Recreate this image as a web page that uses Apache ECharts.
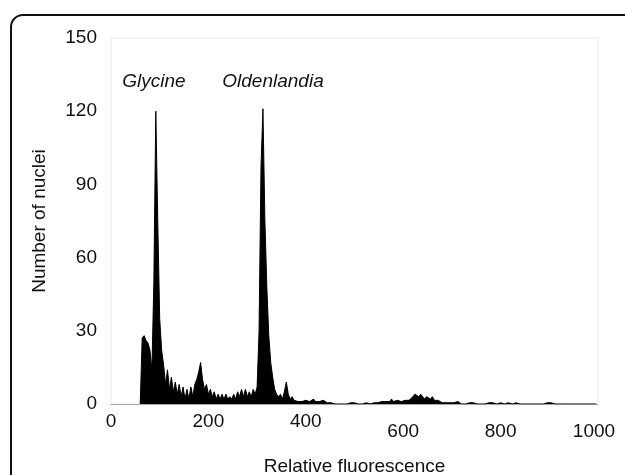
<!DOCTYPE html>
<html>
<head>
<meta charset="utf-8">
<script src="https://cdn.jsdelivr.net/npm/echarts@6/dist/echarts.min.js"></script>
<style>
html,body{margin:0;padding:0;background:#fff;}
#chart{width:625px;height:475px;}
</style>
</head>
<body>
<div id="chart"></div>
<script>
// Histogram bins: first channel and bin width
const binStart = 60;
const binWidth = 4;
// Number of nuclei per bin (channels 60, 64, 68, ... )
const counts = [
  0, 27, 28, 26, 25, 22, 14, 50, 120, 75,
  35, 22, 16, 8, 14, 6, 11, 5, 9, 4,
  8, 3, 7, 2, 6, 2, 7, 3, 8, 10,
  13, 17, 10, 6, 8, 4, 6, 3, 5, 2,
  4, 2, 4, 2, 4, 2, 3, 2, 4, 2,
  5, 3, 6, 3, 6, 3, 5, 3, 6, 4,
  7, 30, 97, 121, 75, 48, 28, 17, 11, 6,
  4, 3, 4, 2, 5, 9, 4, 2, 3, 1.5,
  2, 1, 1.5, 1, 1, 1.5, 1, 1, 1.5, 2,
  1, 1.5, 1, 1, 1.5, 1, 0.5, 1, 0.5, 1,
  0, 0.5, 0, 0.5, 0, 0.5, 0, 0, 0.5, 0,
  0.5, 0, 0, 0.5, 0, 0, 0.5, 0, 0, 0.5,
  0.5, 1, 0.5, 0.5, 1, 0.5, 1, 1, 1, 2,
  1, 1, 1.5, 1, 1, 1, 1.5, 1, 1.5, 2,
  3, 4, 3.5, 3, 4, 3, 2, 3, 2.5, 2,
  3, 1.5, 1, 1.5, 1, 0.5, 1, 0.5, 1, 0.5,
  1, 0.5, 0, 1, 0.5, 0, 0.5, 0, 0, 0.5,
  0, 0.5, 0, 0, 0.5, 0, 0.5, 0, 0, 0.5,
  0, 0.5, 0, 0, 0, 0.5, 0, 0, 0, 0.5,
  0, 0, 0, 0.5, 0, 0, 0, 0, 0, 0,
  0, 0, 0, 0, 0, 0, 0, 0, 0, 0.5,
  0, 0.5, 0, 0, 0, 0, 0, 0, 0, 0,
  0, 0, 0, 0, 0.5, 0, 0, 0, 0, 0,
  0, 0, 0, 0, 0
];
const xTicks = [0, 200, 400, 600, 800, 1000];
const yTicks = [0, 30, 60, 90, 120, 150];
const peakLabels = ['Glycine', 'Oldenlandia'];

const seriesData = counts.map((c, i) => [binStart + i * binWidth, c]);

const chart = echarts.init(document.getElementById('chart'), null, {renderer: 'canvas'});
const font = '"Liberation Sans", Arial, sans-serif';
const fs = 19;
chart.setOption({
  animation: false,
  backgroundColor: '#fff',
  grid: {left: 111, right: 27, top: 38, bottom: 71, show: true, borderColor: '#e8e8e8', borderWidth: 1,
         containLabel: false, outerBoundsMode: 'none'},
  xAxis: {
    type: 'value', min: 0, max: 1000, interval: 200,
    name: 'Relative fluorescence', nameLocation: 'middle', nameGap: 53,
    nameTextStyle: {fontFamily: font, fontSize: fs, color: '#111'},
    axisLine: {show: true, lineStyle: {color: '#aaa', width: 1}},
    axisTick: {show: false},
    splitLine: {show: false},
    axisLabel: {
      margin: 8,
      fontFamily: font, fontSize: fs, color: '#111',
      formatter: v => (v === 1000 ? '{c|' + v + '}' : xTicks.indexOf(v) >= 3 ? '{b|' + v + '}' : '{a|' + v + '}'),
      rich: {
        a: {fontFamily: font, fontSize: fs, color: '#111'},
        b: {fontFamily: font, fontSize: fs, color: '#111', padding: [10, 0, 0, 0]},
        c: {fontFamily: font, fontSize: fs, color: '#111', padding: [10, 8, 0, 0]}
      }
    }
  },
  yAxis: {
    type: 'value', min: 0, max: 150, interval: 30,
    name: 'Number of nuclei', nameLocation: 'middle', nameGap: 62, nameRotate: 90,
    nameTextStyle: {fontFamily: font, fontSize: fs, color: '#111'},
    axisLine: {show: false},
    axisTick: {show: false},
    splitLine: {show: false},
    axisLabel: {margin: 14, fontFamily: font, fontSize: fs, color: '#111'}
  },
  series: [{
    type: 'line',
    data: seriesData,
    showSymbol: false,
    symbol: 'none',
    lineStyle: {color: '#000', width: 1},
    areaStyle: {color: '#000', opacity: 1},
    z: 3
  }],
  graphic: [
    {type: 'rect', shape: {x: 11, y: 15, width: 700, height: 520, r: 12},
     style: {fill: 'none', stroke: '#111', lineWidth: 2}, silent: true, z: 100},
    {type: 'text', x: 154, y: 82, style: {text: peakLabels[0], font: 'italic ' + fs + 'px ' + font, fill: '#111', align: 'center', verticalAlign: 'middle'}, z: 50},
    {type: 'text', x: 273, y: 82, style: {text: peakLabels[1], font: 'italic ' + fs + 'px ' + font, fill: '#111', align: 'center', verticalAlign: 'middle'}, z: 50}
  ]
});
</script>
</body>
</html>
